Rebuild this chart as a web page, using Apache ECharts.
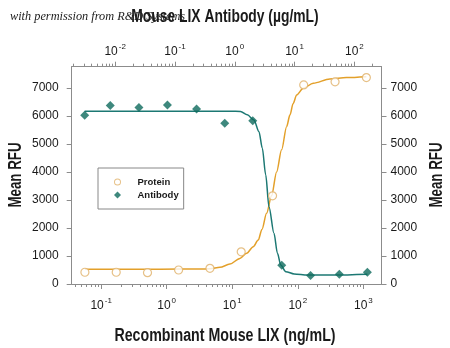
<!DOCTYPE html>
<html>
<head>
<meta charset="utf-8">
<script src="https://cdn.jsdelivr.net/npm/echarts@6/dist/echarts.min.js"></script>
<style>html,body{margin:0;padding:0;background:#fff}#c{width:450px;height:348px}</style>
</head>
<body>
<div id="c"></div>
<script>
// ---- data ----
const proteinConc = [0.0566, 0.17, 0.51, 1.52, 4.57, 13.7, 41.2, 123, 370, 1111];      // ng/mL (bottom axis)
const proteinRFU  = [420, 420, 405, 500, 560, 1150, 3150, 7110, 7220, 7370];
const antibodyConc = [0.0031, 0.0083, 0.025, 0.075, 0.23, 0.68, 2.0, 6.1, 18.5, 56, 165]; // µg/mL (top axis)
const antibodyRFU  = [6030, 6370, 6300, 6390, 6250, 5740, 5830, 670, 300, 345, 420];

const proteinFitConc = [0.0566, 0.19, 0.79, 3.2, 4.6, 6.5, 9.2, 13.1, 16.6, 20.9, 24.9, 28.4, 33.4, 39.8, 47.5, 56.6, 67.5, 76, 85, 96, 121, 172, 308, 554, 1111];
const proteinFitRFU  = [525, 525, 530, 535, 545, 595, 710, 915, 1100, 1330, 1570, 1950, 2525, 3150, 4000, 4790, 5620, 6040, 6450, 6750, 6990, 7170, 7320, 7370, 7400];
const antibodyFitConc = [0.0031, 0.03, 0.3, 0.85, 1.25, 1.62, 2.09, 2.54, 2.89, 3.29, 3.74, 4.53, 5.17, 5.88, 7.14, 9.84, 16.5, 46, 165];
const antibodyFitRFU  = [6170, 6170, 6170, 6170, 6160, 6040, 5860, 5440, 4850, 3900, 2750, 1810, 1100, 680, 440, 360, 320, 320, 350];

const yTicks = [0, 1000, 2000, 3000, 4000, 5000, 6000, 7000];
const bottomMajor = [0.1, 1, 10, 100, 1000];
const topMajor = [0.01, 0.1, 1, 10, 100];

const bottomName = 'Recombinant Mouse LIX (ng/mL)';
const topName = 'Mouse LIX Antibody (µg/mL)';
const yName = 'Mean RFU';
const legendNames = ['Protein', 'Antibody'];
const watermark = 'with permission from R&D Systems';

// ---- helpers ----
function minorTicks(lo, hi) {
  const out = [];
  for (let e = -4; e <= 4; e++) {
    for (let m = 1; m <= 9; m++) {
      const v = m * Math.pow(10, e);
      if (v >= lo && v <= hi) out.push(v);
    }
  }
  return out;
}
const pairs = (xs, ys) => xs.map((x, i) => [x, ys[i]]);

const FONT = "'Liberation Sans', Arial, sans-serif";
const AX = '#8c8c8c';
const TXT = '#1a1a1a';
const ORANGE = '#E3A02A';
const ORANGE_PT = '#E0B068';
const TEAL = '#1C7873';
const TEAL_PT = '#0E6A5D';

const bMin = 0.0356, bMax = 1890;
const tMin = 0.00188, tMax = 284;
const yMax = 7760;

const supLabel = {
  show: true,
  formatter: v => '{b|10}{s|' + Math.round(Math.log10(v)) + '}',
  rich: {
    b: { fontSize: 12, fontFamily: FONT, color: TXT, verticalAlign: 'bottom', lineHeight: 15 },
    s: { fontSize: 8, fontFamily: FONT, color: TXT, verticalAlign: 'top', lineHeight: 9, padding: [0, 0, 0, 1] }
  }
};
const titleFont = "bold 18px 'Liberation Sans', Arial, sans-serif";
function titleText(text, x, y, rot, sx) {
  return {
    type: 'text', x: x, y: y, rotation: rot, scaleX: sx, scaleY: 1, z: 10,
    style: { text: text, x: 0, y: 0, align: 'center', verticalAlign: 'middle', font: titleFont, fill: TXT }
  };
}
const ringIcon = 'path://M5,0A5,5 0 1,1 5,10A5,5 0 1,1 5,0ZM5,1.4A3.6,3.6 0 1,0 5,8.6A3.6,3.6 0 1,0 5,1.4Z';
const diamondIcon = 'path://M5,0L10,5L5,10L0,5Z';

const chart = echarts.init(document.getElementById('c'), null, { renderer: 'canvas' });
chart.setOption({
  animation: false,
  backgroundColor: '#fff',
  grid: { left: 71.7, right: 68.5, top: 66.7, bottom: 64, containLabel: false },
  graphic: [
    { type: 'text', x: 10, y: 17, z: -10,
      style: { text: watermark, x: 0, y: 0, verticalAlign: 'middle', font: "italic 12.3px 'Liberation Serif', 'DejaVu Serif', serif", fill: '#222' } },
    titleText(topName, 225, 17, 0, 0.77),
    titleText(bottomName, 225, 336, 0, 0.79),
    titleText(yName, 16, 175, Math.PI / 2, 0.74),
    titleText(yName, 437, 175, Math.PI / 2, 0.74)
  ],
  legend: {
    data: [
      { name: legendNames[0], icon: ringIcon, itemStyle: { color: ORANGE_PT, borderWidth: 0 } },
      { name: legendNames[1], icon: diamondIcon, itemStyle: { color: TEAL_PT } }
    ],
    orient: 'vertical',
    left: 98, top: 168,
    padding: [9, 5, 9, 16],
    itemWidth: 30, itemHeight: 7, itemGap: 3,
    symbolKeepAspect: true,
    borderColor: '#888', borderWidth: 1,
    textStyle: { fontFamily: FONT, fontSize: 9.5, fontWeight: 'bold', color: TXT }
  },
  xAxis: [
    { // bottom major
      type: 'log', position: 'bottom', min: bMin, max: bMax, logBase: 10,
      axisLine: { show: true, lineStyle: { color: AX, width: 1 } },
      axisTick: { show: true, length: 5, lineStyle: { color: AX }, customValues: bottomMajor },
      axisLabel: Object.assign({ customValues: bottomMajor, margin: 13 }, supLabel),
      splitLine: { show: false }, minorTick: { show: false }
    },
    { // bottom minor ticks
      type: 'log', position: 'bottom', min: bMin, max: bMax, logBase: 10,
      axisLine: { show: false },
      axisTick: { show: true, length: 3, lineStyle: { color: AX }, customValues: minorTicks(bMin, bMax) },
      axisLabel: { show: false }, splitLine: { show: false }
    },
    { // top major
      type: 'log', position: 'top', min: tMin, max: tMax, logBase: 10,
      axisLine: { show: true, lineStyle: { color: AX, width: 1 } },
      axisTick: { show: true, length: 5, lineStyle: { color: AX }, customValues: topMajor },
      axisLabel: Object.assign({ customValues: topMajor, margin: 9 }, supLabel),
      splitLine: { show: false }
    },
    { // top minor ticks
      type: 'log', position: 'top', min: tMin, max: tMax, logBase: 10,
      axisLine: { show: false },
      axisTick: { show: true, length: 3, lineStyle: { color: AX }, customValues: minorTicks(tMin, tMax) },
      axisLabel: { show: false }, splitLine: { show: false }
    }
  ],
  yAxis: [
    {
      type: 'value', position: 'left', min: 0, max: yMax,
      axisLine: { show: true, lineStyle: { color: AX } },
      axisTick: { show: true, length: 5, lineStyle: { color: AX }, customValues: yTicks },
      axisLabel: { customValues: yTicks, margin: 13, fontFamily: FONT, fontSize: 12, color: TXT, formatter: v => String(v) },
      splitLine: { show: false }
    },
    {
      type: 'value', position: 'right', min: 0, max: yMax,
      axisLine: { show: true, lineStyle: { color: AX } },
      axisTick: { show: true, length: 5, lineStyle: { color: AX }, customValues: yTicks },
      axisLabel: { customValues: yTicks, margin: 9, fontFamily: FONT, fontSize: 12, color: TXT, formatter: v => String(v) },
      splitLine: { show: false }
    }
  ],
  series: [
    {
      name: 'ProteinFit', type: 'line', xAxisIndex: 0, yAxisIndex: 0,
      data: pairs(proteinFitConc, proteinFitRFU), showSymbol: false, smooth: 0.3, smoothMonotone: 'x',
      lineStyle: { color: ORANGE, width: 1.5 }, itemStyle: { color: ORANGE }, z: 2
    },
    {
      name: 'AntibodyFit', type: 'line', xAxisIndex: 2, yAxisIndex: 0,
      data: pairs(antibodyFitConc, antibodyFitRFU), showSymbol: false, smooth: 0.3, smoothMonotone: 'x',
      lineStyle: { color: TEAL, width: 1.5 }, itemStyle: { color: TEAL }, z: 2
    },
    {
      name: 'Protein', type: 'scatter', xAxisIndex: 0, yAxisIndex: 0,
      data: pairs(proteinConc, proteinRFU), symbol: 'circle', symbolSize: 8,
      itemStyle: { color: '#fff', borderColor: ORANGE_PT, borderWidth: 1.2 }, z: 3
    },
    {
      name: 'Antibody', type: 'scatter', xAxisIndex: 2, yAxisIndex: 0,
      data: pairs(antibodyConc, antibodyRFU), symbol: 'diamond', symbolSize: 9,
      itemStyle: { color: TEAL_PT }, z: 3
    }
  ]
});
</script>
</body>
</html>
